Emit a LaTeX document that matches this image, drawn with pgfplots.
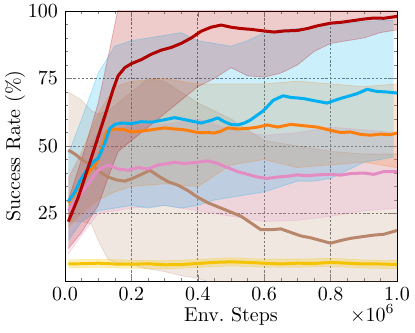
\documentclass[border=0pt]{standalone}
\usepackage{pgfplots}
\pgfplotsset{compat=1.18}
\usepackage{pgfplotstable}
\usepgfplotslibrary{fillbetween}

\definecolor{cred}{HTML}{B00000}
\definecolor{cblue}{HTML}{00B0F0}
\definecolor{corange}{HTML}{FF7F0E}
\definecolor{cpink}{HTML}{E58BC4}
\definecolor{cbrown}{HTML}{B8876B}
\definecolor{cyellow}{HTML}{F5C400}

% means
\pgfplotstableread{
x y
0.01 22
0.04 31
0.075 44
0.1 53.5
0.125 63
0.145 71
0.16 76
0.18 79
0.2 80.5
0.23 82
0.26 84
0.29 85.5
0.32 86.5
0.35 88
0.38 90
0.41 92.5
0.44 94
0.47 94.8
0.5 94
0.53 93.5
0.56 93.2
0.6 92.6
0.63 92.2
0.66 92.6
0.7 92.8
0.73 93.5
0.76 94.5
0.8 95.5
0.83 95.8
0.86 96.3
0.9 97
0.93 97.4
0.96 97.3
1.0 98
}\redmean

\pgfplotstableread{
x y
0.01 29.5
0.03 33
0.045 37
0.065 41
0.085 44
0.1 45.5
0.12 51
0.135 56.5
0.15 58
0.17 58.5
0.2 58.3
0.23 59
0.26 58.8
0.29 59.5
0.33 60.5
0.36 59.8
0.39 59
0.41 58.5
0.44 59.5
0.46 60.4
0.48 59
0.5 58
0.52 57.8
0.54 58.5
0.557 59.5
0.597 63
0.627 66.9
0.657 68.6
0.68 68
0.717 67.6
0.75 66.8
0.789 65.9
0.81 66.8
0.83 67.6
0.855 68.5
0.88 69.4
0.91 71
0.94 70.2
0.97 70
1.0 69.6
}\bluemean

\pgfplotstableread{
x y
0.01 29
0.03 32.5
0.045 36
0.07 40
0.096 44
0.11 49
0.126 55.5
0.15 56.3
0.18 56
0.2 55.2
0.23 55.5
0.26 56
0.3 56.7
0.33 56.3
0.36 56
0.4 55
0.43 55
0.45 54.8
0.47 55.5
0.49 56.7
0.52 56.3
0.55 56.5
0.58 57
0.61 57.8
0.64 57
0.68 58
0.72 57.5
0.76 57
0.8 55.8
0.83 55
0.86 55.2
0.89 54.3
0.92 54
0.95 54.4
0.98 54.2
1.0 54.8
}\orangemean

\pgfplotstableread{
x y
0.01 26
0.04 31
0.07 36
0.1 41
0.13 43
0.16 41.5
0.19 41
0.22 42
0.25 41.5
0.28 43
0.31 43.5
0.33 44
0.36 43.5
0.4 44
0.43 44.5
0.46 43.5
0.49 42
0.52 40.5
0.55 39.5
0.58 38.5
0.61 38
0.64 38.5
0.67 38.8
0.7 39.3
0.73 39
0.76 39.3
0.8 39.5
0.83 39.2
0.86 39.8
0.9 40
0.93 39.5
0.96 40.5
1.0 40.5
}\pinkmean

\pgfplotstableread{
x y
0.01 48.5
0.03 47
0.05 45
0.07 43.5
0.09 42
0.11 40
0.13 38.5
0.156 37.4
0.18 37
0.2 37.8
0.23 39.5
0.256 41
0.28 39
0.31 36.8
0.34 35.5
0.37 33.5
0.4 31
0.43 29
0.46 27.5
0.5 25.5
0.53 24
0.56 21.5
0.59 19
0.62 19
0.65 19.3
0.68 18
0.71 16.7
0.74 16
0.77 15
0.8 14
0.83 15
0.86 15.8
0.9 16.5
0.93 17
0.96 17.3
1.0 18.7
}\brownmean

\pgfplotstableread{
x y
0.01 6.3
0.05 6.4
0.1 6.6
0.15 6.3
0.2 6.2
0.25 6.4
0.3 6
0.35 6.1
0.4 6.5
0.45 6.9
0.5 7.1
0.55 6.9
0.6 6.6
0.65 6.3
0.7 6.6
0.75 6.5
0.8 6.9
0.85 6.6
0.9 6.3
0.95 6.3
1.0 6.1
}\yellowmean

% bands
\pgfplotstableread{
x lo hi
0.01 12 30
0.05 18 45
0.1 28 66
0.135 40 86
0.16 48 101
0.2 52 106
0.3 62 106
0.4 72 106
0.45 75 106
0.5 79 106
0.55 76 106
0.6 75.5 106
0.65 77 106
0.7 80 106
0.75 85 106
0.8 88 106
0.85 89 106
0.9 90 106
0.95 92 106
1.0 93 106
}\redband

\pgfplotstableread{
x lo hi
0.01 15 47
0.05 22 60
0.1 26 77
0.15 27 87
0.2 28 89
0.25 27 90
0.3 28 91
0.35 27 92
0.4 28 89
0.45 30 88
0.5 31 87
0.55 32 89
0.6 33 92
0.65 35 93
0.7 37 93.5
0.75 37 94
0.8 38 95
0.85 41 95.5
0.9 44 96
0.95 45 96.5
0.99 46 96.5
}\blueband

\pgfplotstableread{
x lo hi
0.01 20 38
0.05 25 48
0.1 30 62
0.15 33 72
0.2 35 74
0.3 36 75
0.4 35 73
0.5 43 73
0.6 45 73
0.7 42 74
0.8 43 73
0.9 44 72
1.0 42 73
}\orangeband

\pgfplotstableread{
x lo hi
0.01 10 38
0.05 17 47
0.1 25 55
0.2 27 58
0.3 28 58
0.4 26 60
0.5 24 56
0.6 22 54
0.7 22.5 55
0.8 24 57
0.9 26 56
1.0 27 55
}\pinkband

\pgfplotstableread{
x lo hi
0.01 22 70
0.05 22 67
0.08 21 63
0.1 15 62
0.13 8 63
0.15 7 65
0.2 6 70
0.25 4.5 75
0.3 3.5 74
0.35 2 70
0.4 1 66
0.5 -3 60
0.6 -5 52
0.7 -5 50
0.8 -5 48
0.9 -5 47
1.0 -5 47
}\brownband

\pgfplotstableread{
x lo hi
0.01 4.8 7.8
0.1 5.1 8.1
0.2 4.7 7.7
0.3 4.5 7.5
0.4 5.0 8.0
0.5 5.6 8.6
0.6 5.1 8.1
0.7 5.1 8.1
0.8 5.4 8.4
0.9 4.8 7.8
1.0 4.6 7.6
}\yellowband

\begin{document}
\begin{tikzpicture}
\begin{axis}[
  at={(0,0)}, anchor=south west,
  scale only axis,
  width=166pt, height=135pt,
  xmin=0, xmax=1, ymin=0, ymax=100,
  xtick={0,0.2,0.4,0.6,0.8,1},
  ytick={25,50,75,100},
  minor x tick num=3, minor y tick num=4,
  xticklabel style={/pgf/number format/.cd,fixed,fixed zerofill,precision=1},
  tick align=inside,
  major tick length=3pt, minor tick length=1.6pt,
  grid=major,
  major grid style={dash pattern=on 1.2pt off 0.9pt, black!55, line width=0.4pt},
  xlabel={Env.\ Steps},
  ylabel={Success Rate (\%)},
  every axis x label/.style={at={(axis description cs:0.5,0)}, anchor=base, yshift=-20pt},
  every axis y label/.style={at={(axis description cs:-0.1355,0.5)}, anchor=base, rotate=90},
  every axis plot/.append style={line join=round},
]
% shaded bands
\addplot[name path=bh, draw=cbrown, draw opacity=0.25, thin] table[x=x,y=hi]{\brownband};
\addplot[name path=bl, draw=cbrown, draw opacity=0.25, thin] table[x=x,y=lo]{\brownband};
\addplot[fill=cbrown, fill opacity=0.2, draw=none] fill between[of=bh and bl];

\addplot[name path=ph, draw=cpink, draw opacity=0.25, thin] table[x=x,y=hi]{\pinkband};
\addplot[name path=pl, draw=cpink, draw opacity=0.25, thin] table[x=x,y=lo]{\pinkband};
\addplot[fill=cpink, fill opacity=0.2, draw=none] fill between[of=ph and pl];

\addplot[name path=oh, draw=corange, draw opacity=0.25, thin] table[x=x,y=hi]{\orangeband};
\addplot[name path=ol, draw=corange, draw opacity=0.25, thin] table[x=x,y=lo]{\orangeband};
\addplot[fill=corange, fill opacity=0.2, draw=none] fill between[of=oh and ol];

\addplot[name path=uh, draw=cblue, draw opacity=0.25, thin] table[x=x,y=hi]{\blueband};
\addplot[name path=ul, draw=cblue, draw opacity=0.25, thin] table[x=x,y=lo]{\blueband};
\addplot[fill=cblue, fill opacity=0.2, draw=none] fill between[of=uh and ul];

\addplot[name path=rh, draw=cred, draw opacity=0.25, thin] table[x=x,y=hi]{\redband};
\addplot[name path=rl, draw=cred, draw opacity=0.25, thin] table[x=x,y=lo]{\redband};
\addplot[fill=cred, fill opacity=0.2, draw=none] fill between[of=rh and rl];

\addplot[name path=yh, draw=cyellow, draw opacity=0.25, thin] table[x=x,y=hi]{\yellowband};
\addplot[name path=yl, draw=cyellow, draw opacity=0.25, thin] table[x=x,y=lo]{\yellowband};
\addplot[fill=cyellow, fill opacity=0.25, draw=none] fill between[of=yh and yl];

% mean curves
\addplot[cyellow, line width=1.5pt] table[x=x,y=y]{\yellowmean};
\addplot[cbrown, line width=1.5pt] table[x=x,y=y]{\brownmean};
\addplot[cpink, line width=1.5pt] table[x=x,y=y]{\pinkmean};
\addplot[corange, line width=1.5pt] table[x=x,y=y]{\orangemean};
\addplot[cblue, line width=1.5pt] table[x=x,y=y]{\bluemean};
\addplot[cred, line width=1.5pt] table[x=x,y=y]{\redmean};
\end{axis}
\node[anchor=base east, inner sep=0pt] at ([xshift=-1pt,yshift=-20pt]current axis.south east) {$\times10^{6}$};
\pgfresetboundingbox
\path[use as bounding box] (-32.5pt,-25.5pt) rectangle (175pt,140.5pt);
\end{tikzpicture}
\end{document}
